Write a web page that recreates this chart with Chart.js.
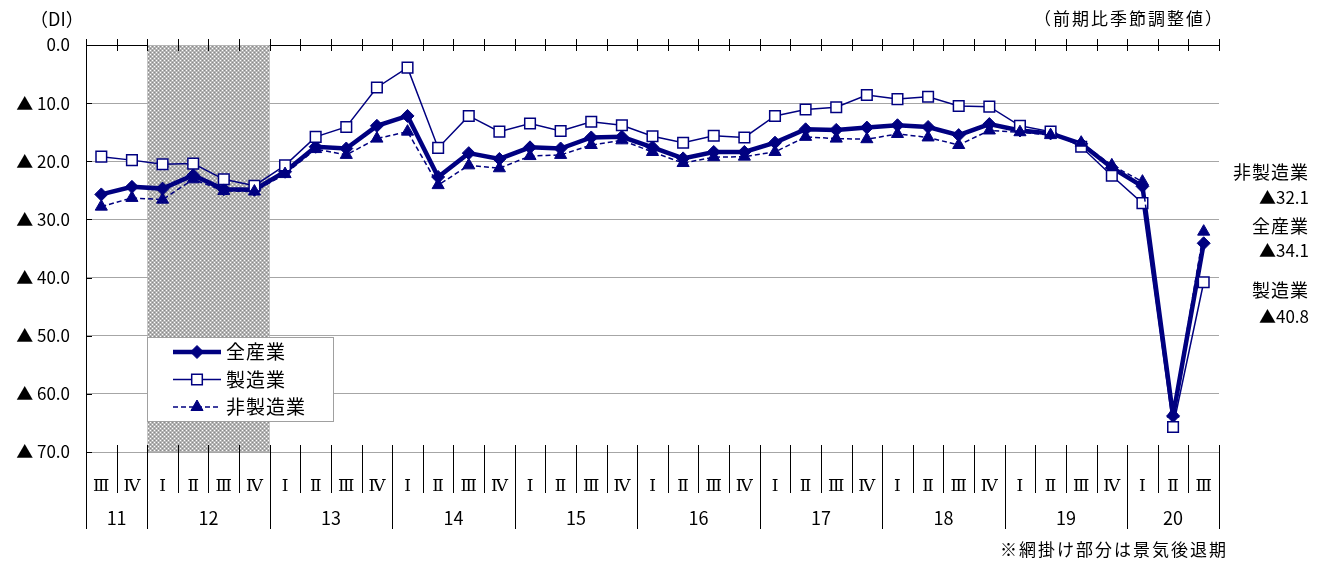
<!DOCTYPE html>
<html lang="ja">
<head>
<meta charset="utf-8">
<title>DI</title>
<script src="https://cdn.jsdelivr.net/npm/chart.js@4.4.1/dist/chart.umd.min.js"></script>
<style>
  html, body { margin: 0; padding: 0; background: #fff; }
  #wrap { width: 1324px; height: 562px; }
</style>
</head>
<body>
<div id="wrap"><canvas id="chart" width="1324" height="562"></canvas></div>
<script>
// periods: year (2 digits) + quarter
const categories = [
  '11Ⅲ','11Ⅳ',
  '12Ⅰ','12Ⅱ','12Ⅲ','12Ⅳ',
  '13Ⅰ','13Ⅱ','13Ⅲ','13Ⅳ',
  '14Ⅰ','14Ⅱ','14Ⅲ','14Ⅳ',
  '15Ⅰ','15Ⅱ','15Ⅲ','15Ⅳ',
  '16Ⅰ','16Ⅱ','16Ⅲ','16Ⅳ',
  '17Ⅰ','17Ⅱ','17Ⅲ','17Ⅳ',
  '18Ⅰ','18Ⅱ','18Ⅲ','18Ⅳ',
  '19Ⅰ','19Ⅱ','19Ⅲ','19Ⅳ',
  '20Ⅰ','20Ⅱ','20Ⅲ'
];

// DI values (▲ = minus, plotted on a reversed axis)
const allIndustry = [
  25.7, 24.4,
  24.7, 22.4, 24.8, 24.9,
  21.8, 17.5, 17.8, 13.9,
  12.2, 22.7, 18.6, 19.6,
  17.6, 17.8, 15.9, 15.8,
  17.6, 19.5, 18.4, 18.4,
  16.8, 14.5, 14.6, 14.2,
  13.8, 14.1, 15.5, 13.6,
  14.7, 15.2, 17.0, 21.1,
  24.3, 63.8, 34.1
];
const manufacturing = [
  19.2, 19.8,
  20.5, 20.4, 23.1, 24.2,
  20.7, 15.8, 14.1, 7.3,
  3.9, 17.7, 12.2, 14.9,
  13.5, 14.8, 13.2, 13.8,
  15.7, 16.8, 15.6, 15.9,
  12.2, 11.1, 10.7, 8.6,
  9.3, 8.9, 10.5, 10.6,
  13.9, 14.9, 17.5, 22.5,
  27.2, 65.7, 40.8
];
const nonManufacturing = [
  27.8, 26.3,
  26.6, 23.1, 25.1, 25.2,
  22.2, 17.9, 18.9, 16.1,
  14.9, 24.1, 20.7, 21.2,
  19.1, 18.9, 17.2, 16.4,
  18.4, 20.3, 19.3, 19.2,
  18.4, 15.8, 16.1, 16.2,
  15.3, 15.9, 17.2, 14.7,
  15.0, 15.5, 16.8, 20.7,
  23.5, 63.4, 32.1
];
const yTicks = [0, 10, 20, 30, 40, 50, 60, 70];
const recession = ['12Ⅰ', '12Ⅳ'];
const seriesNames = ['全産業', '製造業', '非製造業'];

const NAVY = '#000080';
const FONT = '"Noto Sans CJK JP", "Noto Sans", sans-serif';
const ROMAN_FONT = '"DejaVu Serif", "Liberation Serif", serif';

function hatchPattern(ctx) {
  const c = document.createElement('canvas');
  c.width = 4; c.height = 4;
  const g = c.getContext('2d');
  g.fillStyle = '#b4b4b4';
  g.fillRect(0, 0, 4, 4);
  g.fillStyle = '#ffffff';
  g.fillRect(0, 0, 1, 1);
  g.fillRect(2, 2, 1, 1);
  g.fillStyle = '#8a8a8a';
  g.fillRect(2, 0, 1, 1);
  g.fillRect(0, 2, 1, 1);
  return ctx.createPattern(c, 'repeat');
}

function text(ctx, s, x, y, size, align, spacing) {
  ctx.font = size + 'px ' + FONT;
  ctx.textAlign = align;
  ctx.textBaseline = 'middle';
  ctx.fillStyle = '#000';
  if ('letterSpacing' in ctx) ctx.letterSpacing = (spacing || 0) + 'px';
  ctx.fillText(s, x, y);
  if ('letterSpacing' in ctx) ctx.letterSpacing = '0px';
}

const decor = {
  id: 'decor',
  beforeDatasetsDraw(chart) {
    const { ctx, chartArea: a, scales: { x } } = chart;
    const half = (x.getPixelForValue(1) - x.getPixelForValue(0)) / 2;
    const x0 = x.getPixelForValue(categories.indexOf(recession[0])) - half;
    const x1 = x.getPixelForValue(categories.indexOf(recession[1])) + half;
    ctx.save();
    ctx.fillStyle = hatchPattern(ctx);
    ctx.fillRect(x0, a.top, x1 - x0, a.bottom - a.top);
    ctx.restore();
  },
  afterDraw(chart) {
    const { ctx, chartArea: a, scales: { x, y } } = chart;
    const step = x.getPixelForValue(1) - x.getPixelForValue(0);
    const first = x.getPixelForValue(0) - step / 2;
    const n = categories.length;
    ctx.save();
    ctx.strokeStyle = '#000';
    ctx.lineWidth = 1;

    // tick marks on the top axis and separators under the chart
    for (let i = 0; i <= n; i++) {
      const bx = Math.round(first + i * step) + 0.5;
      ctx.beginPath();
      ctx.moveTo(bx, a.top - 6);
      ctx.lineTo(bx, a.top + 6);
      ctx.stroke();
      const isYear = i === 0 || i === n || categories[i].slice(2) === 'Ⅰ';
      ctx.beginPath();
      ctx.moveTo(bx, a.bottom - 7);
      ctx.lineTo(bx, a.bottom + (isYear ? 77 : 41));
      ctx.stroke();
    }
    // y ticks
    yTicks.forEach(v => {
      const py = Math.round(y.getPixelForValue(v)) + 0.5;
      ctx.beginPath();
      ctx.moveTo(a.left, py);
      ctx.lineTo(a.left + 6, py);
      ctx.stroke();
    });

    // year labels
    const years = [...new Set(categories.map(c => c.slice(0, 2)))];
    years.forEach(yr => {
      const idx = categories.map((c, i) => c.slice(0, 2) === yr ? i : -1).filter(i => i >= 0);
      const cx = (x.getPixelForValue(idx[0]) + x.getPixelForValue(idx[idx.length - 1])) / 2;
      text(ctx, yr, cx, a.bottom + 66, 18, 'center');
    });

    // headers and note
    text(ctx, '（DI）', 30, 19, 18, 'left');
    text(ctx, '（前期比季節調整値）', 1224, 19, 17, 'right', 2);
    text(ctx, '※網掛け部分は景気後退期', 1228, 550, 17, 'right', 2);

    // latest values at the right
    const last = n - 1;
    const side = [
      [seriesNames[2], nonManufacturing[last], 172, 198],
      [seriesNames[0], allIndustry[last], 226, 251],
      [seriesNames[1], manufacturing[last], 290, 317]
    ];
    side.forEach(([name, v, ty, vy]) => {
      text(ctx, name, 1309, ty, 18, 'right', 1);
      text(ctx, '▲' + v.toFixed(1), 1309, vy, 17, 'right');
    });

    // legend box
    const lg = { x: 147.5, y: 337.5, w: 186, h: 84 };
    ctx.fillStyle = '#fff';
    ctx.fillRect(lg.x, lg.y, lg.w, lg.h);
    ctx.strokeStyle = '#a0a0a0';
    ctx.strokeRect(lg.x, lg.y, lg.w, lg.h);
    chart.data.datasets.forEach((ds, k) => {
      const cy = 352 + k * 27.5;
      ctx.strokeStyle = ds.borderColor;
      ctx.lineWidth = ds.borderWidth;
      ctx.setLineDash(ds.borderDash || []);
      ctx.beginPath();
      ctx.moveTo(173, cy);
      ctx.lineTo(221, cy);
      ctx.stroke();
      ctx.setLineDash([]);
      ctx.fillStyle = ds.pointBackgroundColor;
      ctx.strokeStyle = ds.pointBorderColor;
      ctx.lineWidth = ds.pointBorderWidth;
      Chart.helpers.drawPoint(ctx, {
        pointStyle: ds.pointStyle, radius: ds.pointRadius, rotation: 0, borderWidth: ds.pointBorderWidth
      }, 197, cy);
      text(ctx, ds.label, 226, cy, 19, 'left', 1);
    });
    ctx.restore();
  }
};

new Chart(document.getElementById('chart'), {
  type: 'line',
  data: {
    labels: categories,
    datasets: [
      {
        label: seriesNames[0], data: allIndustry,
        borderColor: NAVY, backgroundColor: NAVY, borderWidth: 4.5,
        pointStyle: 'rectRot', pointRadius: 6.5,
        pointBackgroundColor: NAVY, pointBorderColor: NAVY, pointBorderWidth: 1,
        order: 3
      },
      {
        label: seriesNames[1], data: manufacturing,
        borderColor: NAVY, backgroundColor: '#fff', borderWidth: 1.5,
        pointStyle: 'rect', pointRadius: 7.5,
        pointBackgroundColor: '#fff', pointBorderColor: NAVY, pointBorderWidth: 1.5,
        order: 2
      },
      {
        label: seriesNames[2], data: nonManufacturing,
        borderColor: NAVY, backgroundColor: NAVY, borderWidth: 1.5, borderDash: [5, 3],
        pointStyle: 'triangle', pointRadius: 7,
        pointBackgroundColor: NAVY, pointBorderColor: NAVY, pointBorderWidth: 1,
        order: 1
      }
    ]
  },
  options: {
    responsive: false,
    animation: false,
    layout: { padding: { left: 0, right: 105, top: 0, bottom: 0 } },
    elements: { line: { tension: 0 } },
    plugins: { legend: { display: false }, tooltip: { enabled: false } },
    scales: {
      x: {
        type: 'category', position: 'bottom', offset: true,
        grid: { display: false }, border: { display: false },
        ticks: {
          autoSkip: false, maxRotation: 0, minRotation: 0, padding: 16, color: '#000',
          font: { family: ROMAN_FONT, size: 17 },
          callback: (v, i) => categories[i].slice(2)
        },
        afterFit: s => { s.height = 110; }
      },
      xTop: {
        type: 'category', position: 'top', offset: true,
        grid: { display: false }, border: { display: false },
        ticks: { display: false },
        afterFit: s => { s.height = 45; }
      },
      y: {
        reverse: true, min: 0, max: 70,
        afterBuildTicks: s => { s.ticks = yTicks.map(v => ({ value: v })); },
        grid: {
          color: c => (c.tick && c.tick.value === 0 ? '#000' : '#a6a6a6'),
          lineWidth: 1, drawTicks: false
        },
        border: { display: true, color: '#000', width: 1 },
        ticks: {
          padding: 16, color: '#000', font: { family: FONT, size: 17 },
          callback: v => (v === 0 ? '0.0' : '▲ ' + v.toFixed(1))
        },
        afterFit: s => { s.width = 86; }
      }
    }
  },
  plugins: [decor]
});
</script>
</body>
</html>
